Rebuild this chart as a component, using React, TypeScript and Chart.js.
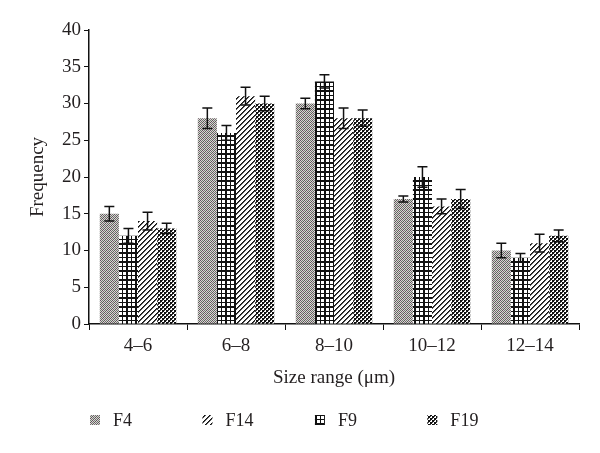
import React, { useEffect, useRef } from "react";
import { Chart, registerables } from "chart.js";

Chart.register(...registerables);

const categories = ["4–6", "6–8", "8–10", "10–12", "12–14"];
const seriesNames = ["F4", "F9", "F14", "F19"];
const F4 = [15, 28, 30, 17, 10];
const F9 = [12, 26, 33, 20, 9];
const F14 = [14, 31, 28, 16, 11];
const F19 = [13, 30, 28, 17, 12];
const F4err = [1, 1.4, 0.7, 0.4, 1];
const F9err = [1, 1, 0.9, 1.4, 0.6];
const F14err = [1.2, 1.2, 1.4, 1, 1.2];
const F19err = [0.7, 1, 1.1, 1.3, 0.8];
const legendOrder = ["F4", "F14", "F9", "F19"];
const yTicks = { min: 0, max: 40, step: 5 };

const FONT = "'Liberation Serif', 'Times New Roman', serif";
const TEXT = "#231f20";
const FS = 19;

function makePattern(kind: string): CanvasPattern | string {
  const c = document.createElement("canvas");
  const size = kind === "grid" ? 9 : kind === "diag" ? 5 : 4;
  c.width = size;
  c.height = size;
  const g = c.getContext("2d")!;
  const px = (x: number, y: number, col: string) => {
    g.fillStyle = col;
    g.fillRect(x, y, 1, 1);
  };
  if (kind === "mottle") {
    const cols = [
      ["#5e5a5c", "#dccfd4", "#7a767a", "#cbd8c8"],
      ["#e2d2d8", "#6b676a", "#d0dec9", "#585558"],
      ["#767276", "#cbd7c6", "#5c585b", "#e0d0d6"],
      ["#d2dfcc", "#625e61", "#e4d4da", "#6f6b6e"],
    ];
    for (let y = 0; y < 4; y++) for (let x = 0; x < 4; x++) px(x, y, cols[y][x]);
  } else if (kind === "diag") {
    g.fillStyle = "#ffffff";
    g.fillRect(0, 0, 5, 5);
    for (let y = 0; y < 5; y++) {
      px((4 - y + 5) % 5, y, "#111111");
      px((5 - y + 5) % 5, y, "#555555");
    }
  } else if (kind === "grid") {
    g.fillStyle = "#ffffff";
    g.fillRect(0, 0, 9, 9);
    g.fillStyle = "#111111";
    [0, 1, 5].forEach((k) => {
      g.fillRect(k, 0, 1, 9);
      g.fillRect(0, k, 9, 1);
    });
  } else {
    g.fillStyle = "#ffffff";
    g.fillRect(0, 0, 4, 4);
    g.fillStyle = "#111111";
    g.fillRect(0, 0, 2, 2);
    g.fillRect(2, 2, 2, 2);
    g.fillStyle = "#444444";
    g.fillRect(2, 0, 1, 1);
    g.fillRect(0, 2, 1, 1);
  }
  return g.createPattern(c, "repeat") || "#888";
}

const errorBarPlugin = {
  id: "errorBars",
  afterDatasetsDraw(chart: any) {
    const ctx = chart.ctx;
    const y = chart.scales.y;
    ctx.save();
    ctx.strokeStyle = "#111";
    ctx.lineWidth = 1.5;
    chart.data.datasets.forEach((ds: any, i: number) => {
      const meta = chart.getDatasetMeta(i);
      meta.data.forEach((bar: any, j: number) => {
        const v = ds.data[j];
        const e = ds.errors[j];
        const x = bar.x;
        const yt = y.getPixelForValue(v + e);
        const yb = y.getPixelForValue(v - e);
        ctx.beginPath();
        ctx.moveTo(x, yt);
        ctx.lineTo(x, yb);
        ctx.moveTo(x - 5, yt);
        ctx.lineTo(x + 5, yt);
        ctx.moveTo(x - 5, yb);
        ctx.lineTo(x + 5, yb);
        ctx.stroke();
      });
    });
    ctx.restore();
  },
};

const legendPlugin = {
  id: "customLegend",
  afterDraw(chart: any) {
    const ctx = chart.ctx;
    const area = chart.chartArea;
    const cy = chart.height - 33;
    const step = (area.right - area.left) * 0.2295;
    ctx.save();
    ctx.font = `18px ${FONT}`;
    ctx.textBaseline = "middle";
    ctx.fillStyle = TEXT;
    legendOrder.forEach((name, k) => {
      const idx = chart.data.datasets.findIndex((d: any) => d.label === name);
      const ds = chart.data.datasets[idx];
      const bx = area.left + 1 + k * step;
      ctx.fillStyle = ds.backgroundColor;
      ctx.fillRect(bx, cy - 5, 10, 10);
      ctx.fillStyle = TEXT;
      ctx.fillText(name, bx + 23, cy + 1);
    });
    ctx.restore();
  },
};

export default function App() {
  const ref = useRef<HTMLCanvasElement>(null);
  useEffect(() => {
    document.body.style.margin = "0";
    const patterns = [
      makePattern("mottle"),
      makePattern("grid"),
      makePattern("diag"),
      makePattern("checker"),
    ];
    const values = [F4, F9, F14, F19];
    const errs = [F4err, F9err, F14err, F19err];
    const chart = new Chart(ref.current!, {
      type: "bar",
      data: {
        labels: categories,
        datasets: seriesNames.map((n, i) => ({
          label: n,
          data: values[i],
          errors: errs[i],
          backgroundColor: patterns[i] as any,
          borderWidth: 0,
          categoryPercentage: 0.78,
          barPercentage: 1.0,
        })) as any,
      },
      options: {
        animation: false,
        responsive: true,
        maintainAspectRatio: false,
        layout: { padding: { top: 30, right: 21, bottom: 64, left: 0 } },
        plugins: {
          legend: { display: false },
          tooltip: { enabled: false },
        },
        scales: {
          x: {
            grid: {
              drawOnChartArea: false,
              drawTicks: true,
              tickLength: 6,
              color: "#111",
              offset: true,
            },
            border: { display: true, color: "#111", width: 1.5 },
            ticks: { color: TEXT, font: { family: FONT, size: FS }, padding: 5 },
            title: {
              display: true,
              text: "Size range (μm)",
              color: TEXT,
              font: { family: FONT, size: FS },
              padding: { top: 0, bottom: 0 },
            },
            afterFit(scale: any) {
              scale.height = 65;
            },
          },
          y: {
            min: yTicks.min,
            max: yTicks.max,
            grid: {
              drawOnChartArea: false,
              drawTicks: true,
              tickLength: 5,
              color: "#111",
            },
            border: { display: true, color: "#111", width: 1.5 },
            ticks: {
              stepSize: yTicks.step,
              color: TEXT,
              font: { family: FONT, size: FS },
              padding: 3,
            },
            title: {
              display: true,
              text: "Frequency",
              color: TEXT,
              font: { family: FONT, size: FS },
              padding: { top: 27, bottom: 0 },
            },
            afterFit(scale: any) {
              scale.width = 89;
            },
          },
        },
      },
      plugins: [errorBarPlugin, legendPlugin],
    });
    return () => chart.destroy();
  }, []);
  return (
    <div style={{ width: 600, height: 453, position: "relative", background: "#fff" }}>
      <canvas ref={ref} />
    </div>
  );
}
